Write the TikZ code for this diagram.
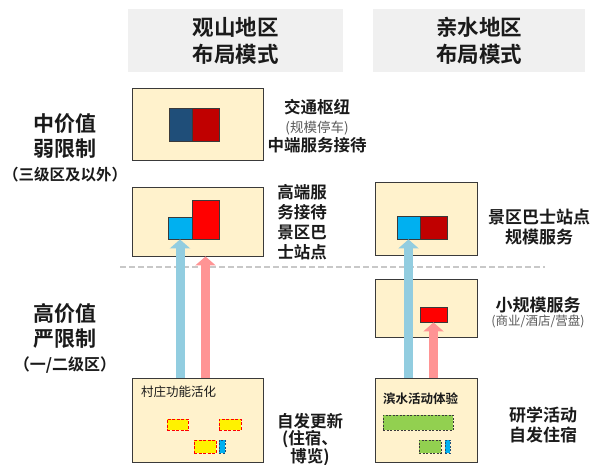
\documentclass[tikz,border=0pt]{standalone}
\usepackage{fontspec}
\setmainfont{Noto Sans CJK SC}[BoldFont={Noto Sans CJK SC Bold}]
\usetikzlibrary{arrows.meta}

\definecolor{ink}{HTML}{1A1A1A}
\definecolor{notegray}{HTML}{595959}
\definecolor{headgray}{HTML}{F0F0F0}
\definecolor{boxfill}{HTML}{FFF2CC}
\definecolor{boxline}{HTML}{3A3A3A}
\definecolor{navy}{HTML}{1F4E79}
\definecolor{darkred}{HTML}{C00000}
\definecolor{skyblue}{HTML}{00B0F0}
\definecolor{brightred}{HTML}{FF0000}
\definecolor{arrowblue}{HTML}{92CDE0}
\definecolor{arrowpink}{HTML}{FF9494}
\definecolor{lotgreen}{HTML}{92D050}
\definecolor{sepgray}{HTML}{C8C8C8}

\tikzset{
  header/.style={fill=headgray, inner sep=0pt, minimum height=63pt, align=center,
    text=ink, font=\bfseries\fontsize{21.5}{27}\selectfont},
  level/.style={inner sep=0pt, align=center, text=ink,
    font=\bfseries\fontsize{21}{25}\selectfont},
  remark/.style={inner sep=0pt, align=center, text=ink,
    font=\bfseries\fontsize{16.5}{20}\selectfont},
  zone/.style={draw=boxline, fill=boxfill, line width=0.9pt, inner sep=0pt},
  blk/.style={draw=boxline, line width=0.9pt, inner sep=0pt},
  lot/.style={draw=brightred, fill=yellow, line width=1pt, dash pattern=on 3pt off 1.5pt, inner sep=0pt},
  greenlot/.style={draw=boxline, fill=lotgreen, line width=0.9pt, dash pattern=on 2pt off 1.5pt, inner sep=0pt},
  bluelot/.style={draw=navy, fill=skyblue, line width=0.9pt, dash pattern=on 2pt off 1.5pt, inner sep=0pt},
  uparrow/.style={draw=#1, line width=9pt, -{Triangle[width=20pt,length=9pt,color=#1]}}
}

\begin{document}
\begin{tikzpicture}[x=1pt,y=-1pt]
  \useasboundingbox (0,0) rectangle (593,464);

  % column headers
  \node[header, minimum width=215pt] (hdL) at (235.5,40.5) {观山地区\\布局模式};
  \node[header, minimum width=212pt] (hdR) at (479,40.5) {亲水地区\\布局模式};

  % value levels
  \node[level] (lvMid) at (65,147.5) {中价值\\弱限制\\[-1pt]{\fontsize{15.5}{15}\selectfont （三级区及以外）}};
  \node[level] (lvHigh) at (65,338) {高价值\\严限制\\[-1pt]{\fontsize{16}{15}\selectfont （一/二级区）}};

  % separator
  \coordinate (sepL) at (120,267);
  \coordinate (sepR) at (545,267);
  \draw[sepgray, line width=1.5pt, dash pattern=on 6pt off 3pt] (sepL) -- (sepR);

  % zones
  \node[zone, minimum width=131pt, minimum height=72pt] (zA) at (197.5,124) {};
  \node[zone, minimum width=131pt, minimum height=69pt] (zB) at (197.5,221.5) {};
  \node[zone, minimum width=131pt, minimum height=84pt] (zE) at (197.5,420) {};
  \node[zone, minimum width=102pt, minimum height=73pt] (zC) at (426,218.5) {};
  \node[zone, minimum width=102pt, minimum height=58pt] (zD) at (426,308) {};
  \node[zone, minimum width=102pt, minimum height=84pt] (zF) at (426,420) {};

  % zone contents
  \node[blk, fill=navy, minimum width=23pt, minimum height=33pt] (aBl) at (180.5,124.5) {};
  \node[blk, fill=darkred, minimum width=27pt, minimum height=33pt] (aRd) at (205.5,124.5) {};
  \node[blk, fill=skyblue, minimum width=24pt, minimum height=22pt] (bBl) at (180,228) {};
  \node[blk, fill=brightred, minimum width=27pt, minimum height=39pt] (bRd) at (205.5,219.5) {};
  \node[blk, fill=skyblue, minimum width=23pt, minimum height=23pt] (cBl) at (408.5,227.5) {};
  \node[blk, fill=darkred, minimum width=27pt, minimum height=23pt] (cRd) at (433.5,227.5) {};
  \node[blk, fill=brightred, minimum width=27pt, minimum height=15pt] (dRd) at (433.5,314.5) {};

  \node[anchor=west, inner sep=0pt, text=ink, font=\fontsize{12.5}{14}\selectfont] (eTitle) at (141,392) {村庄功能活化};
  \node[lot, minimum width=21pt, minimum height=11pt] (eLot1) at (177.5,424.5) {};
  \node[lot, minimum width=22pt, minimum height=11pt] (eLot2) at (230,424.5) {};
  \node[lot, minimum width=22pt, minimum height=13pt] (eLot3) at (205,446.5) {};
  \node[bluelot, minimum width=6pt, minimum height=13pt] (eLot4) at (222,446.5) {};

  \node[anchor=west, inner sep=0pt, text=ink, font=\bfseries\fontsize{12.5}{14}\selectfont] (fTitle) at (383,399) {滨水活动体验};
  \node[greenlot, minimum width=70pt, minimum height=15pt] (fLot1) at (418,422.5) {};
  \node[greenlot, minimum width=22pt, minimum height=13pt] (fLot2) at (430,446.5) {};
  \node[bluelot, minimum width=5pt, minimum height=13pt] (fLot3) at (447.5,446.5) {};

  % upgrade arrows
  \draw[uparrow=arrowblue] (zE.north -| bBl.south) -- (bBl.south);
  \draw[uparrow=arrowpink] (zE.north -| bRd.south) -- (zB.south -| bRd.south);
  \draw[uparrow=arrowblue] (zF.north -| cBl.south) -- (cBl.south);
  \draw[uparrow=arrowpink] (zF.north -| dRd.south) -- (dRd.south);

  % remarks
  \node[remark] (tA) at (317,126) {交通枢纽\\[-1pt]{\mdseries\color{notegray}\fontsize{13.5}{15}\selectfont (规模停车)}\\[-1pt]中端服务接待};
  \node[remark] (tB) at (302,222) {高端服\\务接待\\景区巴\\士站点};
  \node[remark, font=\bfseries\fontsize{17}{20}\selectfont] (tC) at (539,227) {景区巴士站点\\规模服务};
  \node[remark, font=\bfseries\fontsize{17}{20}\selectfont] (tD) at (538,312.5) {小规模服务\\[-6pt]{\mdseries\color{notegray}\fontsize{12.5}{14}\selectfont (商业/酒店/营盘)}};
  \node[remark, font=\bfseries\fontsize{16.5}{17.5}\selectfont] (tE) at (310,439.5) {自发更新\\(住宿、\\博览)};
  \node[remark, font=\bfseries\fontsize{17}{20}\selectfont] (tF) at (543,425) {研学活动\\自发住宿};
\end{tikzpicture}
\end{document}
